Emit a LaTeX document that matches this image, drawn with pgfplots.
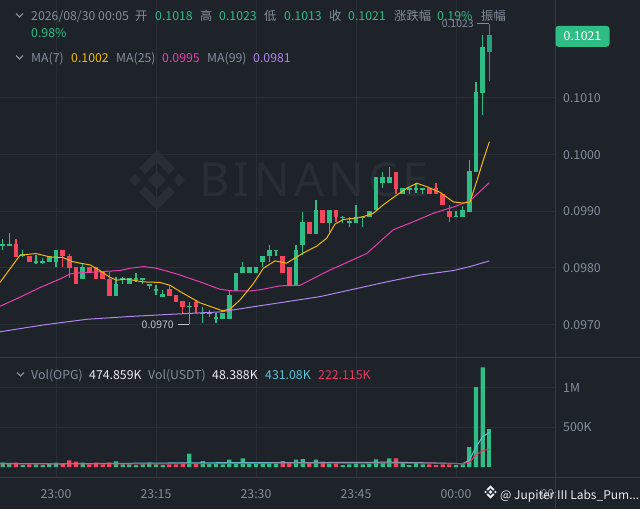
\documentclass[border=0pt]{standalone}
\usepackage{pgfplots}
\pgfplotsset{compat=1.18}
\usepackage{pgfplotstable}
\usepackage{fontspec}
\setmainfont{Noto Sans CJK SC}
\newfontfamily\wmfont{Noto Sans}[LetterSpace=9]
\definecolor{bg}{HTML}{1E2229}
\definecolor{gridc}{HTML}{2A2F37}
\definecolor{sep}{HTML}{353B44}
\definecolor{up}{HTML}{2EBD85}
\definecolor{uplast}{HTML}{26A07A}
\definecolor{dn}{HTML}{F6465D}
\definecolor{ma7}{HTML}{F0B90B}
\definecolor{ma25}{HTML}{E640AE}
\definecolor{ma99}{HTML}{AD86EE}
\definecolor{vcyan}{HTML}{5CC3D8}
\definecolor{vred}{HTML}{E8365E}
\definecolor{tgray}{HTML}{848E9C}
\definecolor{twhite}{HTML}{EAECEF}
\definecolor{wmc}{HTML}{292E36}
\newcommand{\fs}{\fontsize{12.3}{14}\selectfont}
\newcommand{\fss}{\fontsize{10.5}{12}\selectfont}

% t open high low close volume  (t = minutes after 23:00)
\pgfplotstableread{
t o h l c v
-8 0.09838 0.09851 0.09831 0.09842 54000
-7 0.09839 0.09861 0.09838 0.09842 42000
-5 0.09821 0.09831 0.09819 0.09824 25000
-3 0.09808 0.09822 0.09807 0.09812 33000
-2 0.09808 0.09817 0.09807 0.09812 25000
-1 0.09810 0.09821 0.09810 0.09821 42000
0 0.09810 0.09831 0.09801 0.09831 54000
4 0.09780 0.09808 0.09780 0.09801 54000
9 0.09750 0.09784 0.09750 0.09771 70000
10 0.09778 0.09784 0.09771 0.09782 33000
11 0.09771 0.09782 0.09771 0.09782 33000
12 0.09778 0.09791 0.09775 0.09782 25000
13 0.09778 0.09782 0.09771 0.09782 33000
14 0.09768 0.09771 0.09762 0.09771 54000
15 0.09759 0.09769 0.09752 0.09762 33000
16 0.09748 0.09761 0.09748 0.09754 25000
20 0.09731 0.09740 0.09700 0.09733 166000
22 0.09718 0.09731 0.09703 0.09720 75000
23 0.09718 0.09725 0.09713 0.09720 42000
24 0.09710 0.09720 0.09703 0.09713 42000
25 0.09710 0.09720 0.09710 0.09720 33000
26 0.09710 0.09761 0.09710 0.09752 92000
27 0.09759 0.09791 0.09759 0.09791 54000
28 0.09791 0.09810 0.09791 0.09801 108000
29 0.09791 0.09801 0.09791 0.09801 54000
30 0.09791 0.09801 0.09791 0.09801 42000
31 0.09810 0.09821 0.09801 0.09821 54000
32 0.09821 0.09840 0.09810 0.09831 54000
33 0.09829 0.09831 0.09821 0.09831 42000
36 0.09769 0.09840 0.09769 0.09831 92000
37 0.09840 0.09898 0.09822 0.09881 100000
39 0.09859 0.09919 0.09859 0.09902 92000
41 0.09879 0.09902 0.09863 0.09902 42000
43 0.09888 0.09891 0.09879 0.09890 25000
44 0.09879 0.09889 0.09872 0.09882 33000
45 0.09879 0.09911 0.09879 0.09889 42000
46 0.09888 0.09891 0.09872 0.09890 33000
47 0.09889 0.09900 0.09889 0.09900 42000
48 0.09901 0.09960 0.09901 0.09960 96000
49 0.09949 0.09969 0.09941 0.09960 54000
50 0.09949 0.09978 0.09949 0.09960 108000
52 0.09930 0.09941 0.09930 0.09941 54000
53 0.09937 0.09941 0.09930 0.09941 25000
54 0.09937 0.09949 0.09932 0.09941 54000
55 0.09937 0.09941 0.09930 0.09941 33000
60 0.09889 0.09900 0.09889 0.09891 25000
61 0.09889 0.09909 0.09889 0.09902 33000
62 0.09898 0.09990 0.09898 0.09971 250000
63 0.09969 0.10128 0.09969 0.10110 1000000
64 0.10108 0.10210 0.10069 0.10190 1246000
}\upt

\pgfplotstableread{
t o h l c v
65 0.1018 0.1023 0.1013 0.1021 475000
}\lastt

\pgfplotstableread{
t o h l c v
-6 0.09842 0.09851 0.09819 0.09819 54000
-4 0.09821 0.09821 0.09810 0.09810 33000
1 0.09831 0.09831 0.09801 0.09821 42000
2 0.09821 0.09824 0.09782 0.09800 83000
3 0.09801 0.09801 0.09771 0.09771 66000
5 0.09801 0.09801 0.09791 0.09791 33000
6 0.09801 0.09801 0.09780 0.09780 54000
7 0.09792 0.09792 0.09780 0.09780 33000
8 0.09780 0.09792 0.09750 0.09750 54000
17 0.09762 0.09769 0.09750 0.09750 33000
18 0.09752 0.09752 0.09740 0.09740 33000
19 0.09741 0.09741 0.09720 0.09731 54000
21 0.09740 0.09743 0.09720 0.09731 42000
34 0.09821 0.09821 0.09791 0.09791 75000
35 0.09801 0.09801 0.09769 0.09769 54000
38 0.09881 0.09881 0.09859 0.09859 54000
40 0.09902 0.09902 0.09879 0.09879 66000
42 0.09902 0.09902 0.09881 0.09889 42000
51 0.09969 0.09969 0.09930 0.09939 108000
56 0.09941 0.09941 0.09930 0.09930 33000
57 0.09941 0.09949 0.09930 0.09930 25000
58 0.09930 0.09930 0.09910 0.09910 33000
59 0.09900 0.09911 0.09881 0.09889 33000
}\dnt

\pgfplotstableread{
t p
-8.4 0.09774
-5.4 0.09822
-3.0 0.09825
-0.9 0.09819
1.05 0.09818
2.4 0.09811
3.6 0.09808
5.1 0.09805
6.6 0.09795
8.1 0.09783
9.1 0.09778
10.6 0.09780
13.05 0.09775
15.6 0.09774
17.1 0.09769
19.05 0.09755
21.6 0.09738
23.55 0.09730
25.0 0.09724
26.1 0.09727
27.6 0.09743
29.6 0.09772
31.1 0.09799
32.85 0.09812
34.6 0.09808
35.85 0.09817
37.1 0.09826
39.1 0.09838
40.6 0.09852
41.85 0.09877
43.1 0.09885
44.6 0.09887
46.1 0.09890
47.6 0.09896
49.1 0.09911
51.1 0.09928
52.6 0.09940
54.1 0.09949
55.6 0.09943
57.6 0.09933
59.6 0.09916
61.1 0.09914
62.1 0.09916
63.1 0.09952
64.1 0.09990
65.0 0.10022
}\maseven

\pgfplotstableread{
t p
-8.4 0.09732
-5.4 0.09748
-2.4 0.09765
0.6 0.09780
2.1 0.09789
3.6 0.09791
6.6 0.09793
9.6 0.09795
11.1 0.09799
13.1 0.09802
15.1 0.09799
18.1 0.09789
21.6 0.09775
24.6 0.09762
26.6 0.09759
29.1 0.09759
30.6 0.09761
33.6 0.09768
36.6 0.09769
38.6 0.09781
41.1 0.09796
43.6 0.09809
46.6 0.09825
48.6 0.09846
50.6 0.09867
53.6 0.09881
56.6 0.09896
59.6 0.09907
62.1 0.09918
65.0 0.09950
}\matwentyfive

\pgfplotstableread{
t p
-8.4 0.09687
-1.9 0.09699
4.6 0.09709
11.1 0.09714
17.55 0.09718
24.6 0.09722
29.55 0.09731
34.6 0.09740
39.6 0.09749
44.6 0.09762
49.6 0.09775
54.6 0.09787
59.6 0.09795
62.1 0.09802
65.0 0.09812
}\manine

\pgfplotstableread{
t v
-8.4 45000
0 40000
10 46000
20 52000
30 55000
40 56000
50 60000
56 52000
61 42000
62 85000
63 250000
64 380000
65 431000
}\vmaa

\pgfplotstableread{
t v
-8.4 40000
0 38000
10 38000
20 42000
30 46000
40 50000
50 50000
56 48000
61 42000
62 60000
63 150000
64 205000
65 222000
}\vmab

\newcommand{\bnblogo}{%
  \fill (0,-9)--(9,0)--(0,9)--(-9,0)--cycle;
  \fill (-22,-6)--(-16,0)--(-22,6)--(-28,0)--cycle;
  \fill (22,-6)--(28,0)--(22,6)--(16,0)--cycle;
  \fill (0,-30)--(18,-12)--(12,-6)--(0,-18)--(-12,-6)--(-18,-12)--cycle;
  \fill (0,30)--(18,12)--(12,6)--(0,18)--(-12,6)--(-18,12)--cycle;}

\pgfplotsset{
  base/.style={scale only axis, width=555pt,
    xmin=-8.4, xmax=74.85,
    axis line style={draw=none}, major tick length=0pt,
    xtick={0,15,30,45,60},
    xmajorgrids, ymajorgrids, major grid style={draw=gridc, line width=0.8pt},
    yticklabel pos=right, scaled y ticks=false,
    yticklabel style={anchor=west, inner sep=0pt, xshift=8pt, yshift=-0.5pt, font=\fs, text=tgray}},
  wick/.style={draw=none, mark=none, forget plot,
    error bars/.cd, y dir=plus, y explicit, error mark=none,
    error bar style={draw=#1, line width=1.2pt}},
  body/.style={draw=none, mark=none, forget plot,
    error bars/.cd, y dir=plus, y explicit, error mark=none,
    error bar style={draw=#1, line width=4.4pt}},
}

\begin{document}
\begin{tikzpicture}[x=1pt,y=-1pt]
\useasboundingbox (0,0) rectangle (640,509);
\fill[bg] (0,0) rectangle (640,509);
% watermark
\begin{scope}[shift={(157,180)}, wmc]
\bnblogo
\end{scope}
\node[anchor=west, inner sep=0pt, text=wmc, font=\wmfont\bfseries\fontsize{47}{50}\selectfont] at (199,180) {BINANCE};

\begin{axis}[base, at={(0pt,0pt)}, anchor=north west, height=357pt,
  ymin=0.096425, ymax=0.102721,
  xticklabels={},
  ytick={0.097,0.098,0.099,0.1,0.101},
  yticklabels={0.0970,0.0980,0.0990,0.1000,0.1010}]
\addplot[wick=up] table[x=t, y=l, y error plus expr=\thisrow{h}-\thisrow{l}] {\upt};
\addplot[body=up] table[x=t, y=o, y error plus expr=\thisrow{c}-\thisrow{o}] {\upt};
\addplot[wick=dn] table[x=t, y=l, y error plus expr=\thisrow{h}-\thisrow{l}] {\dnt};
\addplot[body=dn] table[x=t, y=c, y error plus expr=\thisrow{o}-\thisrow{c}] {\dnt};
\addplot[wick=uplast] table[x=t, y=l, y error plus expr=\thisrow{h}-\thisrow{l}] {\lastt};
\addplot[body=uplast] table[x=t, y=o, y error plus expr=\thisrow{c}-\thisrow{o}] {\lastt};
\addplot[ma99, line width=1pt, mark=none, forget plot] table[x=t,y=p] {\manine};
\addplot[ma25, line width=1pt, mark=none, forget plot] table[x=t,y=p] {\matwentyfive};
\addplot[ma7, line width=1pt, mark=none, forget plot] table[x=t,y=p] {\maseven};
% high / low markers
\draw[tgray, line width=0.8pt] (axis cs:63.15,0.1023) -- (axis cs:65,0.1023);
\node[anchor=east, inner sep=0pt, text=tgray, font=\fss] at (axis cs:62.7,0.1023) {0.1023};
\draw[twhite!80!bg, line width=0.8pt] (axis cs:18.3,0.0970) -- (axis cs:20,0.0970);
\node[anchor=east, inner sep=0pt, text=twhite!80!bg, font=\fss] at (axis cs:17.7,0.0970) {0.0970};
\end{axis}

\begin{axis}[base, at={(0pt,-357pt)}, anchor=north west, height=120pt,
  ymin=-125000, ymax=1375000,
  xticklabels={23:00,23:15,23:30,23:45,00:00},
  xticklabel style={font=\fs, text=tgray, anchor=center, yshift=-17pt},
  ytick={500000,1000000}, yticklabels={500K,1M}]
\addplot[ybar, bar width=4.2pt, bar shift=0pt, fill=up, draw=none, forget plot] table[x=t,y=v] {\upt};
\addplot[ybar, bar width=4.2pt, bar shift=0pt, fill=dn, draw=none, forget plot] table[x=t,y=v] {\dnt};
\addplot[ybar, bar width=4.2pt, bar shift=0pt, fill=up, draw=none, forget plot] table[x=t,y=v] {\lastt};
\addplot[vcyan, line width=1pt, mark=none, forget plot] table[x=t,y=v] {\vmaa};
\addplot[vred, line width=1pt, mark=none, forget plot] table[x=t,y=v] {\vmab};
\end{axis}

% separators
\draw[sep, line width=0.8pt] (0,357) -- (640,357);
\draw[sep, line width=0.8pt] (0,477) -- (640,477);
\draw[sep, line width=0.8pt] (555,0) -- (555,509);

% current price box
\node[fill=up, rounded corners=3pt, text=white, font=\fs, minimum width=54pt, minimum height=21pt, inner sep=0pt] at (582.5,36.3) {0.1021};

% header
\tikzset{hd/.style={anchor=base west, inner sep=0pt, font=\fs}}
\draw[tgray, line width=1.1pt] (16,13.5) -- (19.5,17) -- (23,13.5);
\node[hd, text=tgray] at (31,20.7) {2026/08/30 00:05};
\node[hd, text=tgray] at (135,20.7) {开};
\node[hd, text=up] at (155,20.7) {0.1018};
\node[hd, text=tgray] at (200,20.7) {高};
\node[hd, text=up] at (219,20.7) {0.1023};
\node[hd, text=tgray] at (264,20.7) {低};
\node[hd, text=up] at (284,20.7) {0.1013};
\node[hd, text=tgray] at (329,20.7) {收};
\node[hd, text=up] at (348,20.7) {0.1021};
\node[hd, text=tgray] at (394,20.7) {涨跌幅};
\node[hd, text=up] at (437,20.7) {0.19\%};
\node[hd, text=tgray] at (481,20.7) {振幅};
\node[hd, text=up] at (31,37.3) {0.98\%};

\draw[tgray, line width=1.1pt] (16,55.5) -- (19.5,59) -- (23,55.5);
\node[hd, text=tgray] at (31,62.5) {MA(7)};
\node[hd, text=ma7] at (71,62.5) {0.1002};
\node[hd, text=tgray] at (116,62.5) {MA(25)};
\node[hd, text=ma25] at (162,62.5) {0.0995};
\node[hd, text=tgray] at (207,62.5) {MA(99)};
\node[hd, text=ma99] at (253,62.5) {0.0981};

\draw[tgray, line width=1.1pt] (17,372.5) -- (20.5,376) -- (24,372.5);
\node[hd, text=tgray] at (31,379) {Vol(OPG)};
\node[hd, text=twhite] at (89,379) {474.859K};
\node[hd, text=tgray] at (148,379) {Vol(USDT)};
\node[hd, text=twhite] at (212,379) {48.388K};
\node[hd, text=vcyan] at (265,379) {431.08K};
\node[hd, text=vred] at (318,379) {222.115K};

% clipped next time label and footer watermark
\begin{scope}
\clip (480,478) rectangle (555,509);
\node[anchor=center, inner sep=0pt, text=tgray, font=\fs] at (556,494) {00:15};
\end{scope}
\begin{scope}[shift={(490.5,492)}, scale=0.22, twhite]
\bnblogo
\end{scope}
\node[hd, text=twhite, font=\fontsize{12}{14}\selectfont] at (500,499) {@ Jupiter III Labs\_Pum...};
\end{tikzpicture}
\end{document}
